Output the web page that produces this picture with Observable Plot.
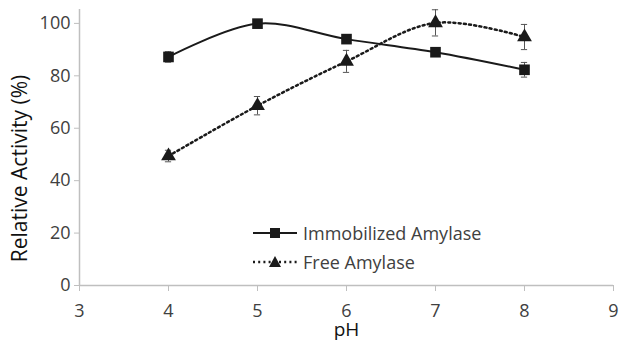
<!DOCTYPE html>
<html>
<head>
<meta charset="utf-8">
<script src="https://cdn.jsdelivr.net/npm/d3@7"></script>
<script src="https://cdn.jsdelivr.net/npm/@observablehq/plot@0.6"></script>
<style>
  html, body { margin: 0; padding: 0; background: #fff; }
  #wrap { position: relative; width: 619px; height: 344px; font-family: "Open Sans", sans-serif; }
  #legend { position: absolute; left: 253px; top: 218px; font-size: 18px; color: #404040; }
  #legend .row { display: flex; align-items: center; height: 29px; }
  #legend svg { margin-right: 6px; }
</style>
</head>
<body>
<div id="wrap"><div id="legend"></div></div>
<script>
const pH = [4, 5, 6, 7, 8];
const immobilized = [87.2, 99.9, 94.0, 89.0, 82.3];
const immobilizedErr = [2.0, 1.0, 1.0, 1.0, 2.8];
const free = [49.4, 68.6, 85.5, 100.2, 94.8];
const freeErr = [2.2, 3.5, 4.2, 5.0, 4.8];
const xTicks = [3, 4, 5, 6, 7, 8, 9];
const yTicks = [0, 20, 40, 60, 80, 100];
const seriesNames = ["Immobilized Amylase", "Free Amylase"];

const imm = pH.map((x, i) => ({x, y: immobilized[i], e: immobilizedErr[i]}));
const fre = pH.map((x, i) => ({x, y: free[i], e: freeErr[i]}));
const cap = 0.035;
const ink = "#1a1a1a";
const errColor = "#555";

function errMarks(data) {
  return [
    Plot.ruleX(data, {x: "x", y1: d => d.y - d.e, y2: d => d.y + d.e, stroke: errColor, strokeWidth: 1}),
    Plot.ruleY(data, {x1: d => d.x - cap, x2: d => d.x + cap, y: d => d.y + d.e, stroke: errColor, strokeWidth: 1}),
    Plot.ruleY(data, {x1: d => d.x - cap, x2: d => d.x + cap, y: d => d.y - d.e, stroke: errColor, strokeWidth: 1})
  ];
}

const chart = Plot.plot({
  width: 619,
  height: 344,
  marginLeft: 79,
  marginRight: 6,
  marginTop: 9,
  marginBottom: 59,
  style: {fontFamily: "Open Sans, sans-serif", fontSize: "18px", background: "white"},
  x: {domain: [3, 9]},
  y: {domain: [0, 105.3]},
  marks: [
    Plot.ruleX([xTicks[0]], {stroke: "#bfbfbf", strokeWidth: 1.5}),
    Plot.ruleY([yTicks[0]], {stroke: "#bfbfbf", strokeWidth: 1.5}),
    Plot.axisX({ticks: xTicks, tickFormat: d3.format("d"), tickSize: 6, tickPadding: 13, stroke: "#bfbfbf", fill: "#404040", label: null, fontSize: 18}),
    Plot.axisY({ticks: yTicks, tickFormat: d3.format("d"), tickSize: 5, tickPadding: 4, stroke: "#bfbfbf", fill: "#404040", label: null, fontSize: 18}),
    Plot.text(["Relative Activity (%)"], {frameAnchor: "left", textAnchor: "middle", rotate: -90, dx: -59, dy: 21, fill: "#111", fontSize: 21}),
    Plot.text(["pH"], {frameAnchor: "bottom", dy: 50, fill: "#111", fontSize: 19}),
    ...errMarks(imm),
    ...errMarks(fre),
    Plot.line(imm, {x: "x", y: "y", curve: "catmull-rom", stroke: ink, strokeWidth: 2}),
    Plot.line(fre, {x: "x", y: "y", curve: "catmull-rom", stroke: ink, strokeWidth: 2.5, strokeDasharray: "2,3.2"}),
    Plot.dot(imm, {x: "x", y: "y", symbol: "square", r: 6, fill: ink, stroke: "none"}),
    Plot.dot(fre, {x: "x", y: "y", symbol: "triangle", r: 5.5, fill: ink, stroke: "none"})
  ]
});
document.getElementById("wrap").prepend(chart);

const legend = document.getElementById("legend");
const samples = [
  `<svg width="44" height="14"><line x1="0" y1="7" x2="44" y2="7" stroke="${ink}" stroke-width="2"/><rect x="17" y="2" width="10" height="10" fill="${ink}"/></svg>`,
  `<svg width="44" height="14"><line x1="0" y1="7" x2="44" y2="7" stroke="${ink}" stroke-width="2.5" stroke-dasharray="2,3.2"/><path d="M22,1 L28,12 L16,12 Z" fill="${ink}"/></svg>`
];
seriesNames.forEach((name, i) => {
  const row = document.createElement("div");
  row.className = "row";
  row.innerHTML = samples[i] + `<span>${name}</span>`;
  legend.appendChild(row);
});
</script>
</body>
</html>
